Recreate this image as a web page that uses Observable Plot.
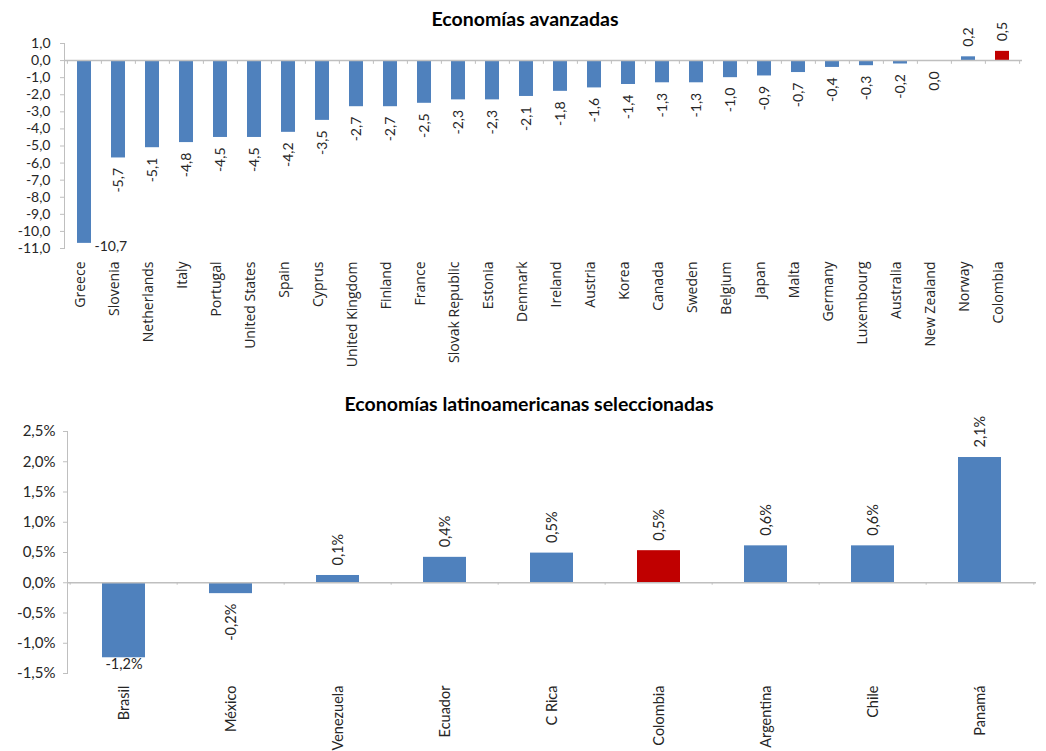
<!DOCTYPE html>
<html><head><meta charset="utf-8">
<script src="https://cdn.jsdelivr.net/npm/d3@7"></script>
<script src="https://cdn.jsdelivr.net/npm/@observablehq/plot@0.6"></script>
<style>
body{margin:0;background:#fff;font-family:Lato,sans-serif;}
#wrap{position:relative;width:1046px;height:751px;overflow:hidden;background:#fff;}
.chart{position:absolute;left:0;}
.title{position:absolute;font-weight:bold;font-size:19.5px;line-height:23px;transform:translateX(-50%);white-space:nowrap;color:#000;z-index:2;font-family:Lato,sans-serif;}
</style></head>
<body><div id="wrap">
<div class="chart" id="c1" style="top:0"></div>
<div class="chart" id="c2" style="top:380px"></div>
<div class="title" style="left:525px;top:7px">Economías avanzadas</div>
<div class="title" style="left:529px;top:392px">Economías latinoamericanas seleccionadas</div>
</div>
<script>
const advCountries = ["Greece","Slovenia","Netherlands","Italy","Portugal","United States","Spain","Cyprus","United Kingdom","Finland","France","Slovak Republic","Estonia","Denmark","Ireland","Austria","Korea","Canada","Sweden","Belgium","Japan","Malta","Germany","Luxembourg","Australia","New Zealand","Norway","Colombia"];
const advValues = [-10.7,-5.7,-5.1,-4.8,-4.5,-4.5,-4.2,-3.5,-2.7,-2.7,-2.5,-2.3,-2.3,-2.1,-1.8,-1.6,-1.4,-1.3,-1.3,-1.0,-0.9,-0.7,-0.4,-0.3,-0.2,-0.04,0.22,0.54];
const advTicks = [1,0,-1,-2,-3,-4,-5,-6,-7,-8,-9,-10,-11];

const latCountries = ["Brasil","México","Venezuela","Ecuador","C Rica","Colombia","Argentina","Chile","Panamá"];
const latValues = [-1.24,-0.18,0.12,0.42,0.49,0.53,0.61,0.61,2.07];
const latTicks = [2.5,2,1.5,1,0.5,0,-0.5,-1,-1.5];

const highlight = "Colombia";
const blue = "#4F81BD", red = "#C00000", gray = "#BFBFBF", ink = "#262626";

const fmt1 = v => { const r = Math.round(v * 10) / 10; return (r === 0 ? 0 : r).toFixed(1).replace(".", ","); };
const fmtPct = v => fmt1(v) + "%";

const adv = advCountries.map((c, i) => ({country: c, value: advValues[i]}));
const lat = latCountries.map((c, i) => ({country: c, value: latValues[i]}));
const advMin = d3.min(advValues), latMin = d3.min(latValues);

// ---- Top chart ----
{
  const W = 1046, mL = 64, mR = 24;
  const step = (W - mL - mR) / advCountries.length;
  const chart = Plot.plot({
    width: W, height: 380, marginTop: 43, marginBottom: 132, marginLeft: mL, marginRight: mR,
    style: {fontFamily: "Lato, sans-serif", fontSize: "14px", color: ink, background: "transparent", overflow: "visible"},
    x: {domain: advCountries, paddingInner: 0.59, paddingOuter: 0.295, axis: null},
    y: {domain: [-11, 1]},
    marks: [
      Plot.frame({anchor: "left", stroke: gray}),
      Plot.axisY({ticks: advTicks, tickFormat: fmt1, tickSize: 4, tickPadding: 10, stroke: gray, fill: ink, label: null, fontSize: 14}),
      Plot.text(advCountries, {x: d => d, frameAnchor: "bottom", text: d => d, rotate: -90, textAnchor: "end", dy: 13, fill: ink, fontFamily: "Open Sans, sans-serif", fontSize: 14}),
      Plot.barY(adv, {x: "country", y: "value", fill: d => d.country === highlight ? red : blue}),
      Plot.ruleY([0], {stroke: gray, strokeWidth: 1.5}),
      Plot.ruleX(advCountries, {x: d => d, y1: 0, y2: -0.22, dx: -step / 2, stroke: gray}),
      Plot.ruleX(advCountries.slice(-1), {x: d => d, y1: 0, y2: -0.22, dx: step / 2, stroke: gray}),
      Plot.text(adv.filter(d => d.value > 0), {x: "country", y: "value", text: d => fmt1(d.value), rotate: -90, textAnchor: "start", dy: -10, fill: ink}),
      Plot.text(adv.filter(d => d.value <= 0 && d.value !== advMin), {x: "country", y: "value", text: d => fmt1(d.value), rotate: -90, textAnchor: "end", dy: 10, fill: ink}),
      Plot.text(adv.filter(d => d.value === advMin), {x: "country", y: "value", text: d => fmt1(d.value), textAnchor: "start", dx: 10, dy: 3, fill: ink})
    ]
  });
  document.getElementById("c1").append(chart);
}

// ---- Bottom chart ----
{
  const W = 1046, mL = 67, mR = 10;
  const step = (W - mL - mR) / latCountries.length;
  const chart = Plot.plot({
    width: W, height: 371, marginTop: 51, marginBottom: 78, marginLeft: mL, marginRight: mR,
    style: {fontFamily: "Lato, sans-serif", fontSize: "14px", color: ink, background: "transparent", overflow: "visible"},
    x: {domain: latCountries, paddingInner: 0.6, paddingOuter: 0.3},
    y: {domain: [-1.5, 2.5]},
    marks: [
      Plot.frame({anchor: "left", stroke: gray}),
      Plot.axisY({ticks: latTicks, tickFormat: fmtPct, tickSize: 4, tickPadding: 8, stroke: gray, fill: ink, label: null, fontSize: 15}),
      Plot.axisX({tickSize: 0, tickPadding: 12, tickRotate: -90, label: null, fontSize: 14.5, fill: ink}),
      Plot.barY(lat, {x: "country", y: "value", fill: d => d.country === highlight ? red : blue}),
      Plot.ruleY([0], {stroke: gray, strokeWidth: 1.5}),
      Plot.ruleX(latCountries, {x: d => d, y1: 0, y2: -0.04, dx: -step / 2, stroke: gray}),
      Plot.ruleX(latCountries.slice(-1), {x: d => d, y1: 0, y2: -0.04, dx: step / 2, stroke: gray}),
      Plot.text(lat.filter(d => d.value > 0), {x: "country", y: "value", text: d => fmtPct(d.value), rotate: -90, textAnchor: "start", dy: -10, fill: ink, fontSize: 14.5}),
      Plot.text(lat.filter(d => d.value <= 0 && d.value !== latMin), {x: "country", y: "value", text: d => fmtPct(d.value), rotate: -90, textAnchor: "end", dy: 10, fill: ink, fontSize: 14.5}),
      Plot.text(lat.filter(d => d.value === latMin), {x: "country", y: "value", text: d => fmtPct(d.value), lineAnchor: "top", dy: 1, fill: ink, fontSize: 14.5})
    ]
  });
  document.getElementById("c2").append(chart);
}
</script>
</body></html>
